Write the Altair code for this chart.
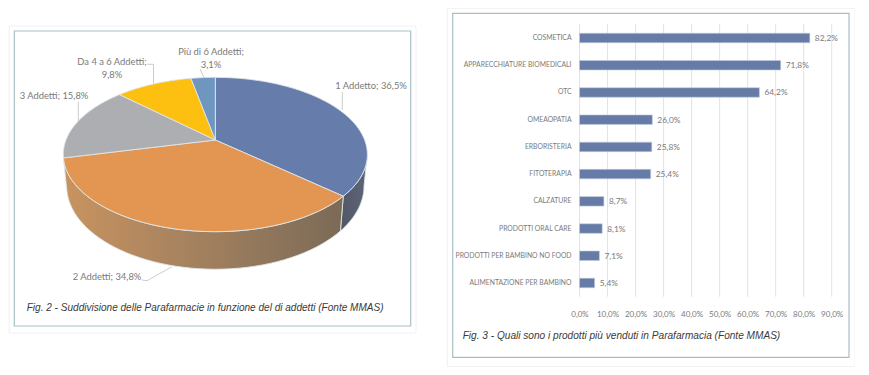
import numpy as np
import pandas as pd
import altair as alt

# --- data -------------------------------------------------------------
pie_labels = ["1 Addetto", "2 Addetti", "3 Addetti", "Da 4 a 6 Addetti", "Più di 6 Addetti"]
pie_values = [36.5, 34.8, 15.8, 9.8, 3.1]
pie_colors = ["#667dab", "#e39552", "#adaeb1", "#fdbf10", "#6f96bf"]

bar_labels = ["COSMETICA", "APPARECCHIATURE BIOMEDICALI", "OTC", "OMEAOPATIA", "ERBORISTERIA",
              "FITOTERAPIA", "CALZATURE", "PRODOTTI ORAL CARE", "PRODOTTI PER BAMBINO NO FOOD",
              "ALIMENTAZIONE PER BAMBINO"]
bar_values = [82.2, 71.8, 64.2, 26.0, 25.8, 25.4, 8.7, 8.1, 7.1, 5.4]
bar_ticks = [0, 10, 20, 30, 40, 50, 60, 70, 80, 90]

caption_left = "Fig. 2 - Suddivisione delle Parafarmacie in funzione del di addetti (Fonte MMAS)"
caption_right = "Fig. 3 - Quali sono i prodotti più venduti in Parafarmacia (Fonte MMAS)"

W, H = 847, 359
FONT = "Lato"
GREY = "#7a7a7a"


def comma(v):
    return f"{v:.1f}".replace(".", ",") + "%"


# --- perspective pie geometry ------------------------------------------
K = 0.188                       # perspective of the tilted disc


def project(theta_deg):
    t = np.radians(theta_deg)
    d = 1 + K * np.cos(t)
    return np.sin(t) / d, np.cos(t) / d


def project_low(theta_deg):
    x, y = project(theta_deg)
    return 0.978 * x, 1.079 * y - 0.4075


xsc = alt.Scale(domain=[-1, 1], range=[207.33 - 149.33, 207.33 + 149.33], nice=False, zero=False)
ysc = alt.Scale(domain=[-1, 1], range=[132 + 74.43, 132 - 74.43], nice=False, zero=False)
XE = alt.X("x:Q", scale=xsc, axis=None)
YE = alt.Y("y:Q", scale=ysc, axis=None)


def polygon(fill, df, stroke="#dfe6ea"):
    return alt.Chart(df).mark_line(fill=fill, stroke=stroke, strokeWidth=0.9, strokeJoin="round").encode(
        x=XE, y=YE, order=alt.Order("i:Q"))


def frame(df_x, df_x2, df_y, df_y2, fill, stroke, sw=1):
    return alt.Chart(alt.Data(values=[{}])).mark_rect(fill=fill, stroke=stroke, strokeWidth=sw).encode(
        x=alt.value(df_x), x2=alt.value(df_x2), y=alt.value(df_y), y2=alt.value(df_y2))


def text(s, px, py, align="center", size=9.4, font=FONT, color=GREY, italic=False):
    d = dict(text=s, align=align, fontSize=size, font=font, color=color, baseline="middle")
    if italic:
        d["fontStyle"] = "italic"
    return alt.Chart(alt.Data(values=[{}])).mark_text(**d).encode(x=alt.value(px - 8), y=alt.value(py - 8))


def seg(x1, y1, x2, y2):
    return alt.Chart(alt.Data(values=[{}])).mark_rule(color="#bfbfbf", strokeWidth=0.8).encode(
        x=alt.value(x1 - 8), x2=alt.value(x2 - 8), y=alt.value(y1 - 8), y2=alt.value(y2 - 8))


edges = np.concatenate([[0], np.cumsum(pie_values)]) * 3.6
tangent = np.degrees(np.arccos(-K))


def wall(a, b):
    th = np.linspace(a, b, 50)
    xt, yt = project(th)
    xb, yb = project_low(th[::-1])
    xs = np.concatenate([xt, xb, xt[:1]])
    ys = np.concatenate([yt, yb, yt[:1]])
    return pd.DataFrame({"x": xs, "y": ys, "i": np.arange(len(xs))})


grad_blue = alt.Gradient(gradient="linear", x1=0, x2=1, y1=0, y2=0,
                         stops=[alt.GradientStop(color="#525766", offset=0),
                                alt.GradientStop(color="#5f6579", offset=1)])
grad_orange = alt.Gradient(gradient="linear", x1=0, x2=1, y1=0, y2=0,
                           stops=[alt.GradientStop(color="#c9935f", offset=0),
                                  alt.GradientStop(color="#a5825f", offset=0.45),
                                  alt.GradientStop(color="#7b6a57", offset=1)])

pie_layers = [polygon(grad_blue, wall(tangent, edges[1])),
              polygon(grad_orange, wall(edges[1], edges[2]))]

for j, c in enumerate(pie_colors):
    th = np.linspace(edges[j], edges[j + 1], 60)
    xa, ya = project(th)
    xs = np.concatenate([[0], xa, [0]])
    ys = np.concatenate([[0], ya, [0]])
    pie_layers.append(polygon(c, pd.DataFrame({"x": xs, "y": ys, "i": np.arange(len(xs))})))

pie = alt.layer(*pie_layers)

# --- bars -------------------------------------------------------------
bars_df = pd.DataFrame({"cat": bar_labels, "val": bar_values, "lab": [comma(v) for v in bar_values]})
ticks_df = pd.DataFrame({"val": bar_ticks})
bx = alt.Scale(domain=[0, 90], range=[571.5, 823.7], nice=False, zero=False)
by = alt.Scale(domain=bar_labels, range=[16.4, 288.6], paddingInner=0.65, paddingOuter=0.325)

grid = alt.Chart(ticks_df).mark_rule(color="#dcdcdc", strokeWidth=0.8).encode(
    x=alt.X("val:Q", scale=bx,
            axis=alt.Axis(values=bar_ticks, title=None, domain=False, ticks=False, grid=False,
                          offset=-(H - 288.6), labelPadding=13.5, labelFont=FONT, labelFontSize=8,
                          labelColor=GREY, labelFlush=False, labelOverlap=False, zindex=1,
                          labelExpr="replace(format(datum.value,'.1f'),'.',',')+'%'")),
    y=alt.value(16), y2=alt.value(288.7))
bars = alt.Chart(bars_df).mark_bar(color="#667ca7", stroke="#c3cee0", strokeWidth=0.6).encode(
    x=alt.X("val:Q", scale=bx),
    y=alt.Y("cat:N", scale=by, sort=bar_labels,
            axis=alt.Axis(title=None, domain=False, ticks=False, grid=False, offset=-571.5,
                          labelPadding=8.5, labelFont=FONT, labelFontSize=6.8, labelColor=GREY,
                          labelLimit=200, labelOverlap=False, zindex=1)))
vals = alt.Chart(bars_df).mark_text(align="left", dx=5, font=FONT, fontSize=8.4, color=GREY).encode(
    x=alt.X("val:Q", scale=bx), y=alt.Y("cat:N", scale=by, sort=bar_labels), text="lab:N")
bar_chart = alt.layer(grid, bars, vals)

# --- furniture --------------------------------------------------------
under = alt.layer(
    frame(1.3, 408, 18, 325, "white", "#f1f1f1"),
    frame(6.3, 402.7, 23, 318, "white", "#a9bfc7", 1.2),
    frame(439.3, 847, 0.3, 358.7, "white", "#f1f1f1"),
    frame(444.7, 841, 5.3, 349.3, "white", "#a9bfc7", 1.2),
)
annot = alt.layer(
    seg(342.3, 91.7, 342.3, 110),
    seg(200, 69, 204, 77.5),
    seg(147.5, 64.3, 153.5, 64.3), seg(153.5, 64.3, 153.5, 83.5),
    seg(78.3, 101.7, 78.3, 121.7),
    seg(142, 280, 147, 280.7), seg(147, 280.7, 172, 266.7),
    text("1 Addetto; " + comma(pie_values[0]), 371, 86),
    text("2 Addetti; " + comma(pie_values[1]), 107, 276.7),
    text("3 Addetti; " + comma(pie_values[2]), 54, 96),
    text("Da 4 a 6 Addetti;", 112, 62), text(comma(pie_values[3]), 112, 75),
    text("Più di 6 Addetti;", 211, 51.7), text(comma(pie_values[4]), 211, 64.7),
    text(caption_left, 26.7, 307.5, align="left", size=10.05, font="Liberation Sans", color="#3a3a3a", italic=True),
    text(caption_right, 462.7, 336.2, align="left", size=10.1, font="Liberation Sans", color="#3a3a3a", italic=True),
)

chart = alt.layer(under, pie, bar_chart, annot).resolve_scale(x="independent", y="independent").properties(
    width=W, height=H, padding=0, autosize=alt.AutoSizeParams(type="none"), background="white"
).configure_view(stroke=None)

chart.save("out.html", embed_options={"renderer": "svg", "actions": False})
